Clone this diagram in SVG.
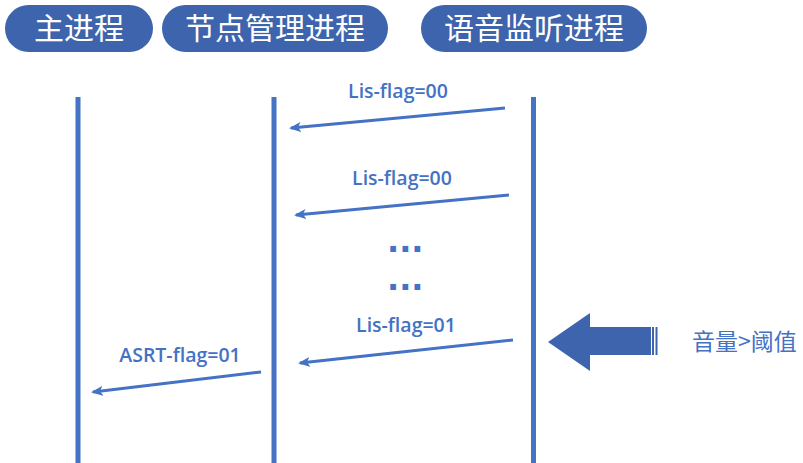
<svg xmlns="http://www.w3.org/2000/svg" width="803" height="463" viewBox="0 0 803 463">
<style>
.pill{fill:#3D64AD}
.pt{fill:#fff;font-family:"Noto Sans CJK SC",sans-serif;font-size:30px;text-anchor:middle}
.life{stroke:#4472C4;stroke-width:5}
.msg{stroke:#4472C4;stroke-width:3;fill:none}
.lbl{fill:#4472C4;font-family:"Open Sans","Noto Sans",sans-serif;font-weight:600;font-size:19.5px;text-anchor:middle}
.dots{fill:#4472C4;font-family:"DejaVu Sans",sans-serif;font-weight:700;font-size:32px}
.note{fill:#4472C4;font-family:"Noto Sans CJK SC",sans-serif;font-size:23px}
</style>
<defs>
<marker id="ah" markerWidth="12" markerHeight="10" refX="10" refY="5" orient="auto" markerUnits="userSpaceOnUse">
<path d="M0,0 L12,5 L0,10 L3,5 Z" fill="#4472C4"/>
</marker>
</defs>
<g id="main">
<rect class="pill" x="5" y="5" width="148" height="47" rx="23.5"/>
<text class="pt" x="79" y="39">主进程</text>
<line class="life" x1="78" y1="97" x2="78" y2="463"/>
</g>
<g id="node-mgr">
<rect class="pill" x="162" y="5" width="226" height="47" rx="23.5"/>
<text class="pt" x="275" y="39">节点管理进程</text>
<line class="life" x1="274" y1="97" x2="274" y2="463"/>
</g>
<g id="voice">
<rect class="pill" x="421" y="5" width="226" height="47" rx="23.5"/>
<text class="pt" x="534" y="39">语音监听进程</text>
<line class="life" x1="533.5" y1="97" x2="533.5" y2="463"/>
</g>
<g id="connectors">
<line class="msg" x1="505" y1="108" x2="291" y2="128" marker-end="url(#ah)"/>
<text class="lbl" x="398" y="98">Lis-flag=00</text>
<line class="msg" x1="509" y1="195" x2="296" y2="215" marker-end="url(#ah)"/>
<text class="lbl" x="402" y="185">Lis-flag=00</text>
<line class="msg" x1="513" y1="340" x2="300" y2="363" marker-end="url(#ah)"/>
<text class="lbl" x="406" y="332">Lis-flag=01</text>
<line class="msg" x1="261" y1="372" x2="93" y2="392" marker-end="url(#ah)"/>
<text class="lbl" x="180" y="362">ASRT-flag=01</text>
</g>
<g id="dots">
<text class="dots" x="387" y="252">...</text>
<text class="dots" x="387" y="290">...</text>
</g>
<g id="trigger">
<path d="M548,342 L590,313 L590,327 L651,327 L651,355 L590,355 L590,371 Z" fill="#3D64AD"/>
<rect x="652" y="327" width="2" height="28" fill="#3D64AD"/>
<rect x="655.5" y="327" width="2" height="28" fill="#3D64AD"/>
<text class="note" x="692" y="350">音量&gt;阈值</text>
</g>
</svg>
